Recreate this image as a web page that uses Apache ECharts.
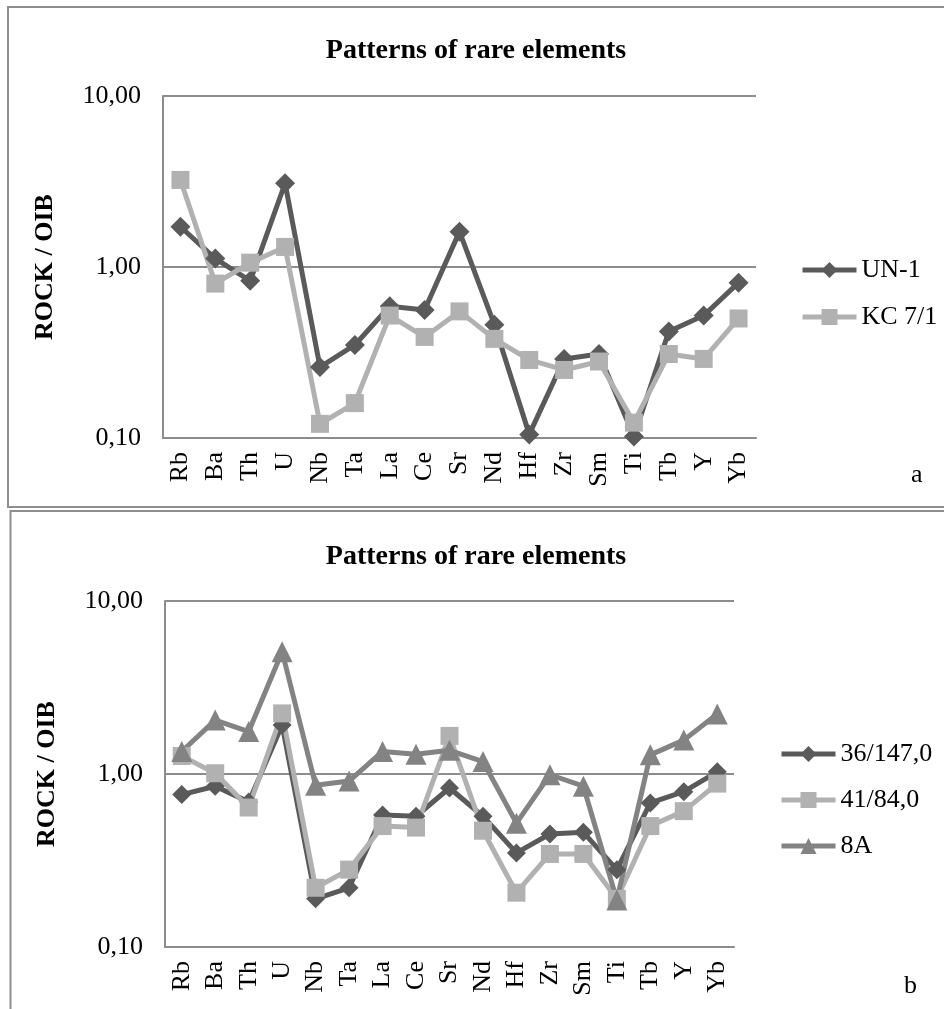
<!DOCTYPE html>
<html><head><meta charset="utf-8">
<script src="https://cdn.jsdelivr.net/npm/echarts@6/dist/echarts.min.js"></script>
<style>html,body{margin:0;padding:0;background:#fff;}#c{width:944px;height:1009px;}</style>
</head><body><div id="c"></div>
<script>
const categories = ['Rb','Ba','Th','U','Nb','Ta','La','Ce','Sr','Nd','Hf','Zr','Sm','Ti','Tb','Y','Yb'];
const chartTitle = 'Patterns of rare elements';
const yAxisName = 'ROCK / OIB';
const yTicks = [0.1, 1, 10];
// chart a
const seriesNamesA = ['UN-1', 'KC 7/1'];
const un1 = [1.72,1.12,0.83,3.09,0.26,0.35,0.59,0.56,1.61,0.46,0.105,0.29,0.31,0.102,0.42,0.52,0.81];
const kc71 = [3.23,0.80,1.06,1.31,0.121,0.16,0.52,0.39,0.55,0.38,0.286,0.25,0.28,0.123,0.31,0.29,0.50];
// chart b
const seriesNamesB = ['36/147,0', '41/84,0', '8A'];
const s36 = [0.76,0.85,0.69,1.92,0.19,0.22,0.58,0.57,0.83,0.57,0.35,0.45,0.46,0.28,0.68,0.79,1.03];
const s41 = [1.27,1.01,0.64,2.24,0.22,0.28,0.50,0.49,1.66,0.47,0.206,0.345,0.345,0.19,0.50,0.61,0.88];
const s8a = [1.35,2.05,1.76,5.09,0.86,0.91,1.35,1.30,1.37,1.18,0.52,0.99,0.85,0.187,1.29,1.57,2.22];

const FONT = '"Liberation Serif","Times New Roman",serif';
const DARK = '#5a5a5a', LIGHT = '#b1b1b1', MID = '#838383', GRIDC = '#8c8c8c';

function xAxis(gi){
  return {gridIndex: gi, type:'category', data: categories, boundaryGap:true,
    axisLine:{show:true, lineStyle:{color:GRIDC, width:2}}, axisTick:{show:false},
    axisLabel:{rotate:90, interval:0, margin:14, color:'#000', fontFamily:FONT, fontSize:26}};
}
function yAxis(gi, gap){
  return {gridIndex: gi, type:'log', logBase:10, min:yTicks[0], max:yTicks[yTicks.length-1], interval:1,
    name:yAxisName, nameLocation:'middle', nameRotate:90, nameGap:gap,
    nameTextStyle:{fontFamily:FONT, fontSize:26, fontWeight:'bold', color:'#000'},
    axisLine:{show:true, lineStyle:{color:GRIDC, width:2}}, axisTick:{show:false},
    splitLine:{show:true, lineStyle:{color:GRIDC, width:2}},
    axisLabel:{margin:22, color:'#000', fontFamily:FONT, fontSize:26,
      formatter: v => v.toFixed(2).replace('.', ',')}};
}
function line(name, data, color, symbol, size, xi){
  return {name, type:'line', data, xAxisIndex:xi, yAxisIndex:xi,
    symbol, symbolSize:size, showSymbol:true,
    lineStyle:{color, width:5}, itemStyle:{color}, emphasis:{disabled:true}};
}
const legendCommon = {orient:'vertical', itemWidth:54, itemHeight:20,
  lineStyle:{width:5}, textStyle:{fontFamily:FONT, fontSize:26, color:'#000', lineHeight:30}};

const chart = echarts.init(document.getElementById('c'), null, {renderer:'canvas'});
chart.setOption({
  animation:false,
  backgroundColor:'#fff',
  title:[
    {text:chartTitle, left:471, top:32, textAlign:'center', textStyle:{fontFamily:FONT, fontSize:28, fontWeight:'bold', color:'#000'}},
    {text:chartTitle, left:471, top:538, textAlign:'center', textStyle:{fontFamily:FONT, fontSize:28, fontWeight:'bold', color:'#000'}}
  ],
  grid:[
    {left:163, top:96, width:593, height:342},
    {left:165, top:601, width:569, height:346}
  ],
  xAxis:[xAxis(0), xAxis(1)],
  yAxis:[yAxis(0,105), yAxis(1,105)],
  legend:[
    Object.assign({data:seriesNamesA, left:795, top:250, itemGap:17}, legendCommon),
    Object.assign({data:seriesNamesB, left:774, top:734, itemGap:16}, legendCommon)
  ],
  series:[
    line(seriesNamesA[0], un1, DARK, 'diamond', 20, 0),
    line(seriesNamesA[1], kc71, LIGHT, 'rect', 18, 0),
    line(seriesNamesB[0], s36, DARK, 'diamond', 19, 1),
    line(seriesNamesB[1], s41, LIGHT, 'rect', 18, 1),
    line(seriesNamesB[2], s8a, MID, 'triangle', 21, 1)
  ],
  graphic:[
    {type:'rect', shape:{x:8, y:7, width:960, height:500}, style:{fill:null, stroke:'#8e8e8e', lineWidth:2}, silent:true},
    {type:'rect', shape:{x:10.5, y:511, width:960, height:520}, style:{fill:null, stroke:'#8e8e8e', lineWidth:2}, silent:true},
    {type:'text', left:911, top:462, style:{text:'a', font:'26px '+FONT, fill:'#000'}},
    {type:'text', left:904, top:973, style:{text:'b', font:'26px '+FONT, fill:'#000'}}
  ]
});
</script></body></html>
